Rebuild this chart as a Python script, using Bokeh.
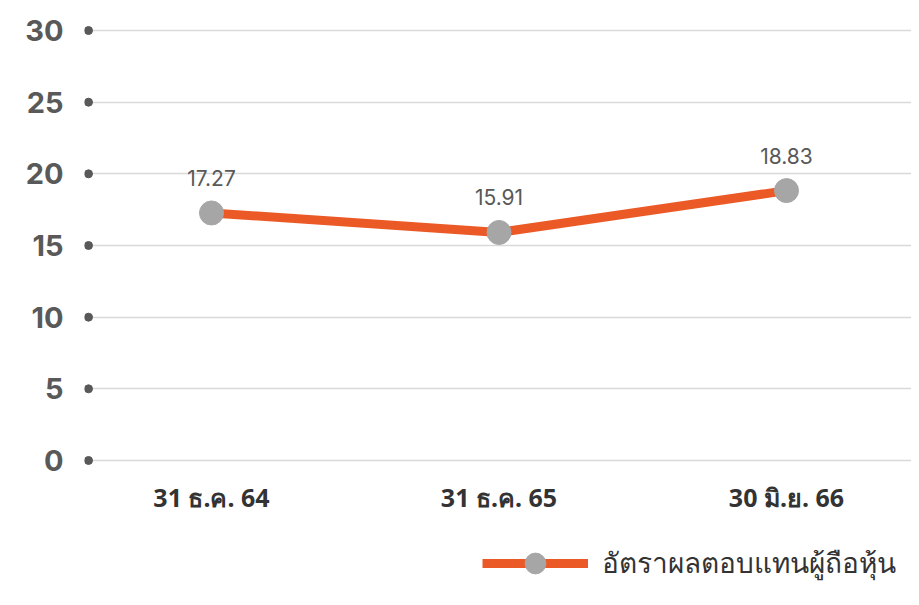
from bokeh.plotting import figure
from bokeh.layouts import column
from bokeh.models import Range1d, FixedTicker, ColumnDataSource, Legend, LegendItem, LabelSet
from bokeh.core.properties import value
from bokeh.embed import file_html
from bokeh.resources import INLINE

categories = ["31 ธ.ค. 64", "31 ธ.ค. 65", "30 มิ.ย. 66"]
roe = [17.27, 15.91, 18.83]
roe_labels = ["17.27", "15.91", "18.83"]
y_ticks = [0, 5, 10, 15, 20, 25, 30]
series_name = "อัตราผลตอบแทนผู้ถือหุ้น"

LINE_COLOR = "#EB5A26"
DOT_COLOR = "#A6A6A6"

W = 911
H1, H2 = 520, 69
left, top = 84, 25
ppu = 287.5
x_start = -(211 - left) / ppu
x_end = x_start + (W - left) / ppu
y_pad = 0.35

p = figure(width=W, height=H1, output_backend="svg", toolbar_location=None,
           x_range=Range1d(x_start, x_end), y_range=Range1d(-y_pad, 30 + y_pad),
           min_border_left=left, min_border_right=0, min_border_top=top,
           min_border_bottom=H1 - 465)
p.outline_line_color = None
p.border_fill_color = "white"

xs = list(range(len(categories)))
src = ColumnDataSource(dict(x=xs, y=roe, lab=roe_labels))

p.xgrid.visible = False
p.ygrid.ticker = FixedTicker(ticks=y_ticks)
p.ygrid.grid_line_color = "#d9d9d9"
p.ygrid.grid_line_width = 1.5

dot_x = x_start + 4 / ppu
p.scatter([dot_x] * len(y_ticks), y_ticks, size=8, color="#595959")

p.yaxis.ticker = FixedTicker(ticks=y_ticks)
p.yaxis.axis_line_color = None
p.yaxis.major_tick_line_color = None
p.yaxis.minor_tick_line_color = None
p.yaxis.major_tick_out = 0
p.yaxis.minor_tick_out = 0
p.yaxis.major_label_standoff = 21
p.yaxis.major_label_text_font = "Inter"
p.yaxis.major_label_text_font_size = "29px"
p.yaxis.major_label_text_color = "#595959"
p.yaxis.major_label_text_font_style = "bold"

p.xaxis.ticker = FixedTicker(ticks=xs)
p.xaxis.major_label_overrides = {i: c for i, c in enumerate(categories)}
p.xaxis.axis_line_color = None
p.xaxis.major_tick_line_color = None
p.xaxis.minor_tick_line_color = None
p.xaxis.major_tick_out = 0
p.xaxis.minor_tick_out = 0
p.xaxis.major_label_standoff = 14
p.xaxis.major_label_text_font = "Noto Sans"
p.xaxis.major_label_text_font_size = "25px"
p.xaxis.major_label_text_color = "#333333"
p.xaxis.major_label_text_font_style = "bold"

p.line("x", "y", source=src, line_color=LINE_COLOR, line_width=9)
p.scatter("x", "y", source=src, size=24, fill_color=DOT_COLOR, line_color=DOT_COLOR)

labels = LabelSet(x="x", y="y", text="lab", source=src, y_offset=27,
                  text_align="center", text_baseline="bottom",
                  text_font=value("Inter"), text_font_size="21px",
                  text_color="#595959")
p.add_layout(labels)

# legend strip (its renderers share the data but lie outside its view)
p2 = figure(width=W, height=H2, output_backend="svg", toolbar_location=None,
            x_range=Range1d(100, 101), y_range=Range1d(100, 101),
            x_axis_location=None, y_axis_location=None,
            min_border_left=0, min_border_right=0, min_border_top=0,
            min_border_bottom=0)
p2.grid.visible = False
p2.outline_line_color = None
ln2 = p2.line("x", "y", source=src, line_color=LINE_COLOR, line_width=9)
pt2 = p2.scatter("x", "y", source=src, size=24, fill_color=DOT_COLOR, line_color=DOT_COLOR)
legend = Legend(items=[LegendItem(label=series_name, renderers=[ln2, pt2])],
                location=(398, 0), orientation="horizontal",
                border_line_color=None, background_fill_alpha=0,
                glyph_width=106, glyph_height=52, label_standoff=14,
                label_text_font="Noto Sans", label_text_font_size="28px",
                label_text_color="#333333", margin=0, padding=0)
p2.add_layout(legend, "center")

open("out.html", "w").write(file_html(column(p, p2), INLINE))
